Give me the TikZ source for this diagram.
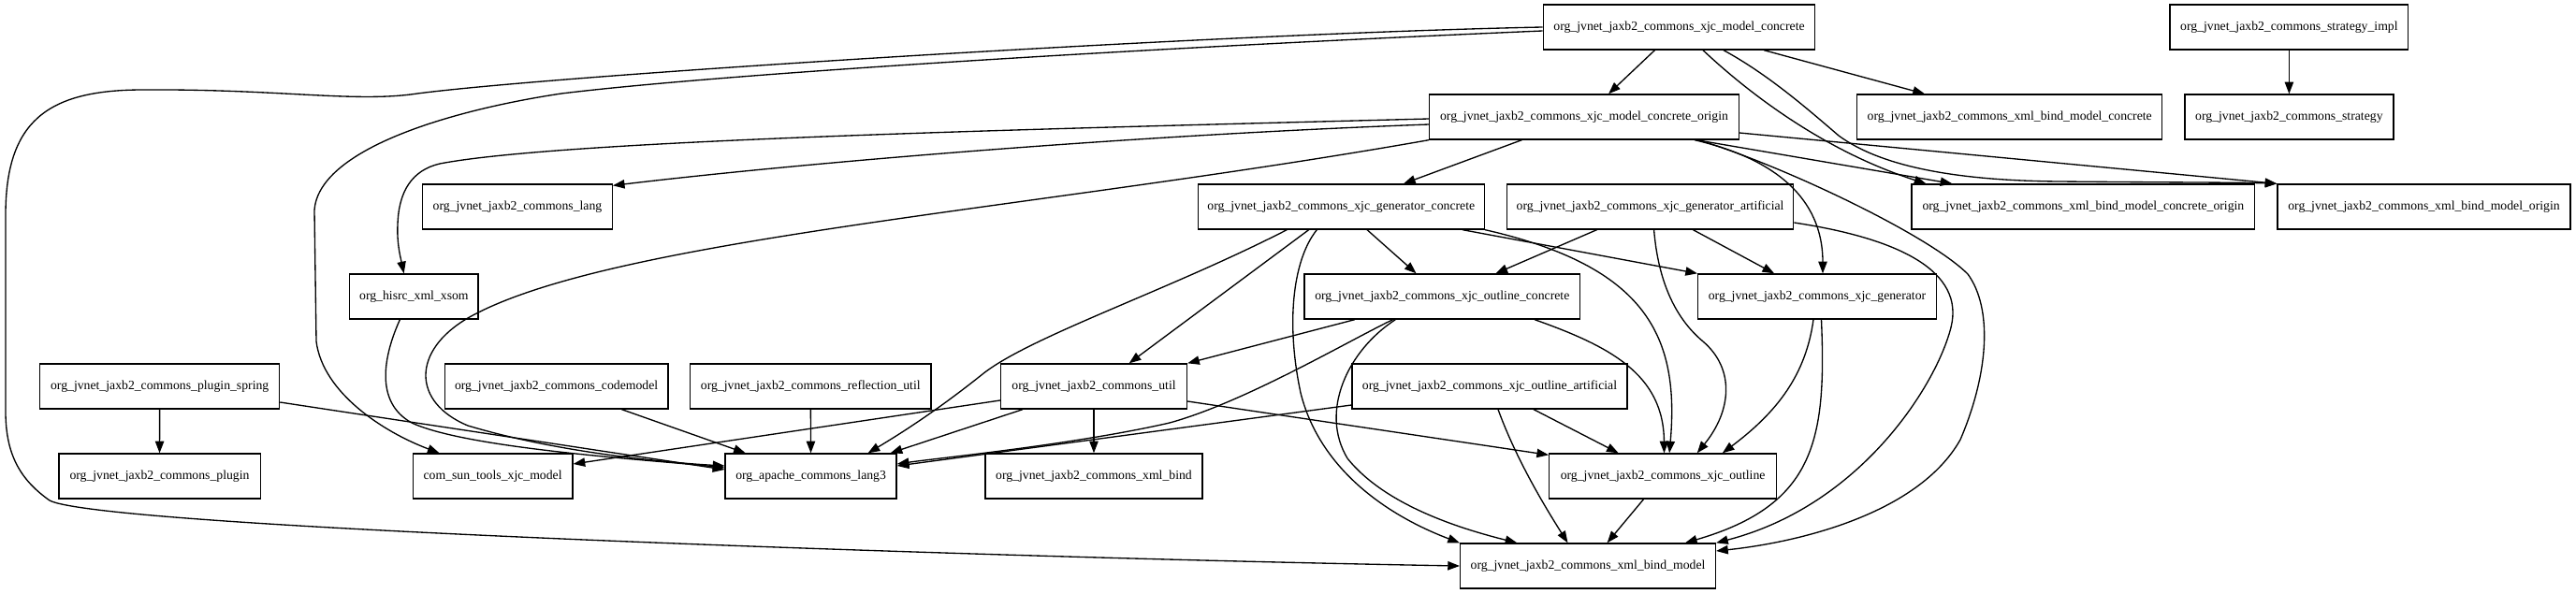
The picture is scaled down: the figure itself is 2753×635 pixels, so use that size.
\documentclass[tikz,border=0pt]{standalone}
\usepackage{fontspec}
\setmainfont{Liberation Serif}
\usetikzlibrary{arrows.meta,calc}
\begin{document}
\begin{tikzpicture}[x=0.75pt,y=-0.75pt,
  box/.style={draw, line width=1pt, minimum height=36pt, inner sep=0pt,
    font=\fontsize{10.3pt}{12pt}\selectfont},
  dep/.style={draw, line width=1pt, -{Triangle[length=9.5pt,width=7pt]}}]
\path[fill=white] (0,0) rectangle (2753,635);
\useasboundingbox (0,0) rectangle (2753,635);
% row 1
\node[box, minimum width=217.95pt] (mc) at (1794.5,29) {org\_jvnet\_jaxb2\_commons\_xjc\_model\_concrete};
\node[box, minimum width=191pt] (si) at (2446.4,29) {org\_jvnet\_jaxb2\_commons\_strategy\_impl};
% row 2
\node[box, minimum width=247.9pt] (mco) at (1693,125) {org\_jvnet\_jaxb2\_commons\_xjc\_model\_concrete\_origin};
\node[box, minimum width=244.35pt] (xbmc) at (2147.7,125) {org\_jvnet\_jaxb2\_commons\_xml\_bind\_model\_concrete};
\node[box, minimum width=167.25pt] (st) at (2446.4,125) {org\_jvnet\_jaxb2\_commons\_strategy};
% row 3
\node[box, minimum width=151.8pt] (lang) at (553,221) {org\_jvnet\_jaxb2\_commons\_lang};
\node[box, minimum width=229.65pt] (gc) at (1433.3,221) {org\_jvnet\_jaxb2\_commons\_xjc\_generator\_concrete};
\node[box, minimum width=229.65pt] (ga) at (1763.6,221) {org\_jvnet\_jaxb2\_commons\_xjc\_generator\_artificial};
\node[box, minimum width=274.9pt] (xbmco) at (2226.4,221) {org\_jvnet\_jaxb2\_commons\_xml\_bind\_model\_concrete\_origin};
\node[box, minimum width=234.75pt] (xbmo) at (2590.5,221) {org\_jvnet\_jaxb2\_commons\_xml\_bind\_model\_origin};
% row 4
\node[box, minimum width=103pt] (xsom) at (442.4,317) {org\_hisrc\_xml\_xsom};
\node[box, minimum width=220.9pt] (oc) at (1541.3,317) {org\_jvnet\_jaxb2\_commons\_xjc\_outline\_concrete};
\node[box, minimum width=191pt] (gen) at (1942,317) {org\_jvnet\_jaxb2\_commons\_xjc\_generator};
% row 5
\node[box, minimum width=191.85pt] (spring) at (170.7,413) {org\_jvnet\_jaxb2\_commons\_plugin\_spring};
\node[box, minimum width=179.1pt] (codemodel) at (594.6,413) {org\_jvnet\_jaxb2\_commons\_codemodel};
\node[box, minimum width=193.1pt] (refl) at (866.3,413) {org\_jvnet\_jaxb2\_commons\_reflection\_util};
\node[box, minimum width=149.25pt] (util) at (1169,413) {org\_jvnet\_jaxb2\_commons\_util};
\node[box, minimum width=220.5pt] (oa) at (1592,413) {org\_jvnet\_jaxb2\_commons\_xjc\_outline\_artificial};
% row 6
\node[box, minimum width=161.5pt] (plugin) at (170.5,509) {org\_jvnet\_jaxb2\_commons\_plugin};
\node[box, minimum width=128pt] (xjcm) at (526.6,509) {com\_sun\_tools\_xjc\_model};
\node[box, minimum width=137.25pt] (lang3) at (866.6,509) {org\_apache\_commons\_lang3};
\node[box, minimum width=173.9pt] (xb) at (1169,509) {org\_jvnet\_jaxb2\_commons\_xml\_bind};
\node[box, minimum width=182.1pt] (outline) at (1777.1,509) {org\_jvnet\_jaxb2\_commons\_xjc\_outline};
% row 7
\node[box, minimum width=204.6pt] (xbm) at (1697,605) {org\_jvnet\_jaxb2\_commons\_xml\_bind\_model};

% edges from model_concrete
\draw[dep] (mc) -- (mco);
\draw[dep] (mc) -- (xbmc);
\draw[dep] ($(mc.south)+(25.5,0)$) .. controls (1880,110) and (1960,165) .. ($(xbmco.north)+(-168,0)$);
\draw[dep] ($(mc.south)+(47.5,0)$) .. controls (1890,80) and (1930,115) .. (1965,145) .. controls (2010,178) and (2090,193) .. (2200,194) .. controls (2310,195) and (2400,195) .. (xbmo.north west);
\draw[dep] ($(mc.west)+(0,4)$) .. controls (1250,50) and (780,78) .. (600,100) .. controls (480,118) and (340,160) .. (336,225) -- (338,365) .. controls (345,420) and (410,462) .. ($(xjcm.north)+(-57,0)$);
\draw[dep] (mc.west) .. controls (1300,36) and (600,80) .. (446,100) .. controls (380,110) and (300,95) .. (153,96) .. controls (50,96) and (6,130) .. (6,230) -- (6,440) .. controls (6,490) and (25,515) .. (53,535) .. controls (110,565) and (1100,597) .. (xbm.west);

% edges from model_concrete_origin
\draw[dep] ($(mco.west)+(0,8)$) .. controls (1200,145) and (850,175) .. ($(lang.north east)+(0,2)$);
\draw[dep] ($(mco.west)+(0,2)$) .. controls (1100,138) and (600,150) .. (470,175) .. controls (440,182) and (426,205) .. (425,240) .. controls (424,260) and (428,275) .. ($(xsom.north)+(-10.7,0)$);
\draw[dep] (mco.south west) .. controls (1100,225) and (650,255) .. (500,340) .. controls (440,375) and (440,430) .. (500,455) .. controls (600,485) and (720,495) .. ($(lang3.west)+(0,-11)$);
\draw[dep] (mco) -- (gc);
\draw[dep] ($(mco.south)+(120,0)$) -- ($(xbmco.north)+(-140,0)$);
\draw[dep] ($(mco.east)+(0,17)$) -- (xbmo.north west);
\draw[dep] ($(mco.south)+(118,0)$) .. controls (1920,175) and (1948,230) .. ($(gen.north)+(6,0)$);
\draw[dep] ($(mco.south)+(122,0)$) .. controls (1900,175) and (2060,250) .. (2103,293) .. controls (2130,330) and (2125,400) .. (2095,470) .. controls (2050,550) and (1920,580) .. ($(xbm.east)+(0,-16)$);

% edges from generator_concrete
\draw[dep] ($(gc.south)+(-58,0)$) .. controls (1250,310) and (1100,360) .. (1050,400) .. controls (1000,440) and (960,465) .. ($(lang3.north)+(61,0)$);
\draw[dep] ($(gc.south)+(-34.6,0)$) -- ($(util.north)+(37.7,0)$);
\draw[dep] ($(gc.south)+(-26,0)$) .. controls (1380,280) and (1375,350) .. (1390,420) .. controls (1410,500) and (1480,550) .. (xbm.north west);
\draw[dep] (gc) -- (oc);
\draw[dep] ($(gc.south)+(129.7,0)$) -- (gen.north west);
\draw[dep] (gc.south east) .. controls (1760,285) and (1795,360) .. ($(outline.north)+(7,0)$);

% edges from generator_artificial
\draw[dep] (ga) -- (oc);
\draw[dep] (ga) -- (gen);
\draw[dep] ($(ga.south)+(4,0)$) .. controls (1772,300) and (1790,340) .. (1820,365) .. controls (1855,395) and (1850,440) .. ($(outline.north)+(36.6,0)$);
\draw[dep] ($(ga.east)+(0,17)$) .. controls (2030,255) and (2100,290) .. (2085,350) .. controls (2070,410) and (1990,540) .. (xbm.north east);

% edges from outline_concrete
\draw[dep] ($(oc.south)+(-93.5,0)$) -- (util.north east);
\draw[dep] ($(oc.south)+(-52.8,0)$) .. controls (1440,365) and (1330,430) .. (1250,452) .. controls (1150,475) and (1000,490) .. ($(lang3.east)+(0,-13)$);
\draw[dep] ($(oc.south)+(-50,0)$) .. controls (1440,375) and (1410,440) .. (1440,490) .. controls (1480,540) and (1560,565) .. ($(xbm.north)+(-75.7,0)$);
\draw[dep] ($(oc.south)+(98.7,0)$) .. controls (1720,370) and (1778,400) .. ($(outline.north)+(1.4,0)$);

% edges from xjc_generator
\draw[dep] ($(gen.south)+(-4,0)$) .. controls (1930,400) and (1900,440) .. ($(outline.north)+(63.7,0)$);
\draw[dep] ($(gen.south)+(4.5,0)$) .. controls (1952,470) and (1940,540) .. ($(xbm.north)+(104,0)$);

% edges from util
\draw[dep] ($(util.west)+(0,15)$) -- ($(xjcm.east)+(0,-13)$);
\draw[dep] ($(util.south)+(-76,0)$) -- ($(lang3.north)+(85,0)$);
\draw[dep] (util) -- (xb);
\draw[dep] ($(util.east)+(0,16)$) -- ($(outline.north west)+(0,2)$);

% edges from outline_artificial
\draw[dep] ($(oa.west)+(0,20)$) -- ($(lang3.east)+(0,-11)$);
\draw[dep] ($(oa.south)+(9,0)$) .. controls (1620,490) and (1650,540) .. ($(xbm.north)+(-21.5,0)$);
\draw[dep] ($(oa.south)+(47,0)$) -- ($(outline.north)+(-47.4,0)$);

% others
\draw[dep] (outline) -- (xbm);
\draw[dep] ($(xsom.south)+(-15,0)$) .. controls (410,380) and (400,430) .. (440,452) .. controls (500,480) and (700,492) .. ($(lang3.west)+(0,-9)$);
\draw[dep] ($(spring.east)+(0,17)$) -- ($(lang3.west)+(0,-7)$);
\draw[dep] (spring) -- (plugin);
\draw[dep] (codemodel) -- (lang3);
\draw[dep] (refl) -- (lang3);
\draw[dep] (si) -- (st);
\end{tikzpicture}
\end{document}
